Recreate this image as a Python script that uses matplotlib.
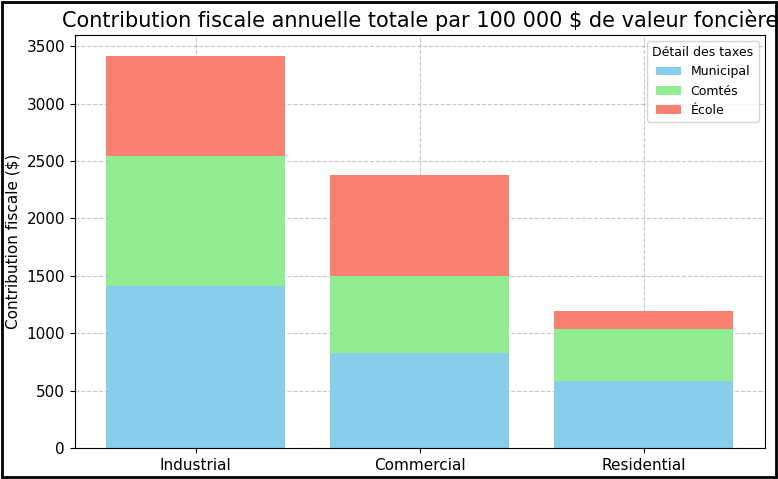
import matplotlib.pyplot as plt
import numpy as np

categories = ["Industrial", "Commercial", "Residential"]
municipal = [1410, 825, 580]
comtes = [1135, 670, 455]
ecole = [870, 880, 155]

fig = plt.figure(figsize=(7.78, 4.79), dpi=100)
ax = fig.add_axes([0.096, 0.065, 0.887, 0.862])

x = np.arange(len(categories))
ax.bar(x, municipal, color="skyblue", label="Municipal", zorder=2)
ax.bar(x, comtes, bottom=municipal, color="lightgreen", label="Comtés", zorder=2)
bottom2 = np.array(municipal) + np.array(comtes)
ax.bar(x, ecole, bottom=bottom2, color="salmon", label="École", zorder=2)

ax.set_xticks(x)
ax.set_xticklabels(categories, fontsize=11)
ax.tick_params(axis="y", labelsize=11)
ax.set_ylabel("Contribution fiscale ($)", fontsize=11)
ax.set_title("Contribution fiscale annuelle totale par 100 000 $ de valeur foncière", fontsize=15)
ax.set_ylim(0, 3600)
ax.set_yticks(range(0, 3501, 500))
ax.grid(True, linestyle="--", alpha=0.7, zorder=0)
ax.legend(title="Détail des taxes", loc="upper right", fontsize=9, title_fontsize=9)

fig.patches.append(plt.Rectangle((0.002, 0.004), 0.996, 0.992, transform=fig.transFigure,
                                 fill=False, edgecolor="black", linewidth=2))
fig.savefig("out.png")
